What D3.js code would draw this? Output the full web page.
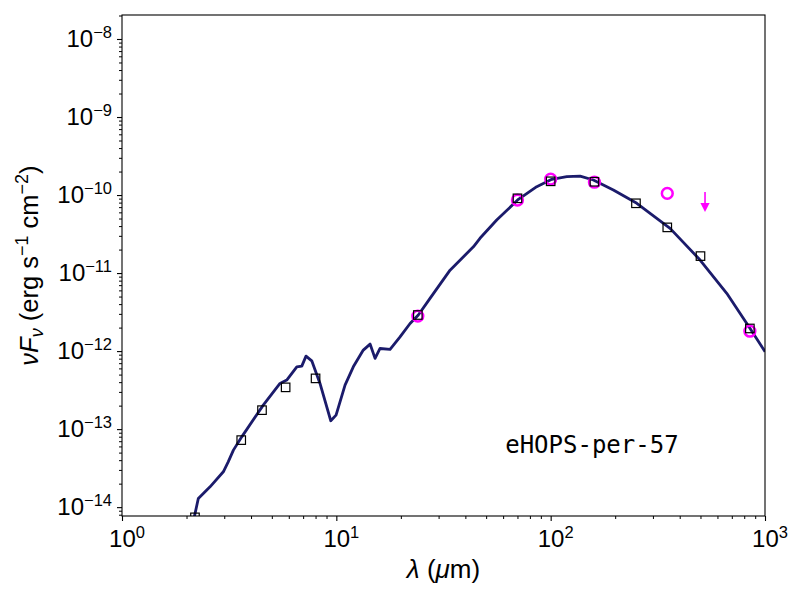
<!DOCTYPE html>
<html>
<head>
<meta charset="utf-8">
<script src="https://cdn.jsdelivr.net/npm/d3@7"></script>
<style>
  body { margin: 0; background: #fff; }
  svg text { font-family: "Liberation Sans Narrow", "Liberation Sans", Arial, sans-serif; }
</style>
</head>
<body>
<div id="art"></div>
<script>
// model SED (wavelength in micron, nuFnu in erg s^-1 cm^-2)
const modelLambda = [2.15, 2.27, 2.575, 2.97, 3.13, 3.31, 3.62, 4.56, 5.46, 5.87, 6.54, 6.90, 7.22, 7.68, 8.39,
  9.42, 9.97, 10.98, 12.0, 13.36, 14.37, 15.16, 15.99, 17.81, 19.83, 22.08, 24.13, 27.36, 33.93, 43.6,
  46.8, 56.0, 70.7, 86.1, 101.2, 118.9, 137.2, 158.2, 196.1, 252.3, 360.7, 498, 663, 852, 1001];
const modelFlux = [6.5e-15, 1.29e-14, 1.82e-14, 2.84e-14, 3.81e-14, 5.38e-14, 7.96e-14, 2.03e-13, 3.85e-13, 4.25e-13,
  6.29e-13, 6.42e-13, 8.63e-13, 7.51e-13, 3.85e-13, 1.28e-13, 1.51e-13, 3.66e-13, 6.29e-13, 1.03e-12,
  1.23e-12, 8.06e-13, 1.08e-12, 1.05e-12, 1.52e-12, 2.26e-12, 2.90e-12, 4.74e-12, 1.09e-11, 2.17e-11,
  2.79e-11, 4.78e-11, 8.81e-11, 1.28e-10, 1.59e-10, 1.72e-10, 1.75e-10, 1.56e-10, 1.16e-10, 7.84e-11,
  3.74e-11, 1.47e-11, 5.50e-12, 1.95e-12, 9.8e-13];

// photometry (open squares)
const photLambda = [2.19, 3.6, 4.5, 5.8, 8.0, 24, 70, 100, 160, 250, 350, 500, 850];
const photFlux = [7.4e-15, 7.23e-14, 1.75e-13, 3.43e-13, 4.47e-13, 2.9e-12, 9.08e-11, 1.5e-10, 1.48e-10,
  7.84e-11, 3.85e-11, 1.65e-11, 1.95e-12];

// fitted points (magenta circles)
const fitLambda = [24, 70, 100, 160, 350, 850];
const fitFlux = [2.81e-12, 8.63e-11, 1.6e-10, 1.46e-10, 1.05e-10, 1.8e-12];

// upper limit (magenta arrow)
const limLambda = [525];
const limFlux = [1.09e-10];

const xTicks = [1, 10, 100, 1000];
const yTicks = [1e-14, 1e-13, 1e-12, 1e-11, 1e-10, 1e-9, 1e-8];
const sourceName = "eHOPS-per-57";

function art() {
  const W = 800, H = 600;
  const m = { left: 122, top: 15, right: 35, bottom: 84 };

  const svg = d3.select("#art").append("svg")
    .attr("width", W).attr("height", H);

  const x = d3.scaleLog().domain([1, 1000]).range([m.left, W - m.right]);
  const y = d3.scaleLog().domain([7.7e-15, 2.03e-8]).range([H - m.bottom, m.top]);

  svg.append("clipPath").attr("id", "clip")
    .append("rect")
    .attr("x", m.left).attr("y", m.top)
    .attr("width", W - m.left - m.right).attr("height", H - m.top - m.bottom);

  const plot = svg.append("g").attr("clip-path", "url(#clip)");

  // model line
  const line = d3.line().x(d => x(d[0])).y(d => y(d[1]));
  plot.append("path")
    .datum(d3.zip(modelLambda, modelFlux))
    .attr("d", line)
    .attr("fill", "none")
    .attr("stroke", "#1b1b6b")
    .attr("stroke-width", 2.8)
    .attr("stroke-linejoin", "round");

  // magenta circles
  plot.selectAll("circle.fit")
    .data(d3.zip(fitLambda, fitFlux))
    .enter().append("circle")
    .attr("cx", d => x(d[0]))
    .attr("cy", d => y(d[1]))
    .attr("r", 5.4)
    .attr("fill", "none")
    .attr("stroke", "#ff00ff")
    .attr("stroke-width", 2.5);

  // photometry squares
  const s = 8.5;
  plot.selectAll("rect.phot")
    .data(d3.zip(photLambda, photFlux))
    .enter().append("rect")
    .attr("x", d => x(d[0]) - s / 2)
    .attr("y", d => y(d[1]) - s / 2)
    .attr("width", s).attr("height", s)
    .attr("fill", "none")
    .attr("stroke", "#000")
    .attr("stroke-width", 1.2);

  // upper limit arrow
  const lim = plot.selectAll("g.lim")
    .data(d3.zip(limLambda, limFlux))
    .enter().append("g");
  lim.append("line")
    .attr("x1", d => x(d[0])).attr("x2", d => x(d[0]))
    .attr("y1", d => y(d[1])).attr("y2", d => y(d[1]) + 13)
    .attr("stroke", "#ff00ff").attr("stroke-width", 1.6);
  lim.append("path")
    .attr("d", d => {
      const cx = x(d[0]), cy = y(d[1]) + 11;
      return `M${cx - 4.6},${cy}L${cx + 4.6},${cy}L${cx},${cy + 9}Z`;
    })
    .attr("fill", "#ff00ff");

  // axes
  const minors = (lo, hi) => {
    const out = [];
    for (let e = lo; e < hi; e++) for (let k = 2; k <= 9; k++) out.push(k * Math.pow(10, e));
    return out;
  };

  const bottom = H - m.bottom;
  svg.append("g").attr("transform", `translate(0,${bottom})`)
    .call(d3.axisBottom(x).tickValues(minors(0, 3)).tickSize(3).tickFormat(""))
    .call(g => g.select(".domain").remove())
    .selectAll("line").attr("stroke-width", 1);
  const xa = svg.append("g").attr("transform", `translate(0,${bottom})`)
    .call(d3.axisBottom(x).tickValues(xTicks).tickSize(5).tickSizeOuter(0).tickFormat(""));
  xa.selectAll("line").attr("stroke-width", 1.1);
  xa.select(".domain").remove();

  svg.append("g").attr("transform", `translate(${m.left},0)`)
    .call(d3.axisLeft(y).tickValues(minors(-15, -7).filter(v => v >= 7.7e-15 && v <= 2.03e-8)).tickSize(3).tickFormat(""))
    .call(g => g.select(".domain").remove())
    .selectAll("line").attr("stroke-width", 1);
  const ya = svg.append("g").attr("transform", `translate(${m.left},0)`)
    .call(d3.axisLeft(y).tickValues(yTicks).tickSize(5).tickFormat(""));
  ya.selectAll("line").attr("stroke-width", 1.1);
  ya.select(".domain").remove();

  // frame
  svg.append("rect")
    .attr("x", m.left).attr("y", m.top)
    .attr("width", W - m.left - m.right).attr("height", H - m.top - m.bottom)
    .attr("fill", "none").attr("stroke", "#000").attr("stroke-width", 1.1);

  // tick labels with superscript exponents
  const expLabel = (sel, v) => {
    const e = Math.round(Math.log10(v));
    sel.append("tspan").text("10");
    sel.append("tspan").attr("dy", -9).attr("font-size", 16.5)
      .text(e < 0 ? "\u2212" + (-e) : String(e));
  };

  xTicks.forEach(v => {
    const t = svg.append("text")
      .attr("x", x(v) + 5).attr("y", bottom + 31)
      .attr("text-anchor", "middle")
      .attr("font-size", 24).attr("fill", "#000");
    expLabel(t, v);
  });

  yTicks.forEach(v => {
    const t = svg.append("text")
      .attr("x", m.left - 10).attr("y", y(v) + 8)
      .attr("text-anchor", "end")
      .attr("font-size", 24).attr("fill", "#000");
    expLabel(t, v);
  });

  // axis titles
  const xt = svg.append("text")
    .attr("x", (m.left + W - m.right) / 2).attr("y", 578)
    .attr("text-anchor", "middle")
    .attr("font-size", 26);
  xt.append("tspan").attr("font-style", "italic").text("\u03bb");
  xt.append("tspan").text(" (");
  xt.append("tspan").attr("font-style", "italic").text("\u03bc");
  xt.append("tspan").text("m)");

  const yt = svg.append("text")
    .attr("transform", `translate(38,${(m.top + bottom) / 2}) rotate(-90)`)
    .attr("text-anchor", "middle")
    .attr("font-size", 25.5);
  yt.append("tspan").attr("font-style", "italic").text("\u03bdF");
  yt.append("tspan").attr("font-style", "italic").attr("font-size", 18).attr("dy", 5).text("\u03bd");
  yt.append("tspan").attr("dy", -5).text(" (erg s");
  yt.append("tspan").attr("font-size", 18).attr("dy", -10).text("\u22121");
  yt.append("tspan").attr("dy", 10).text(" cm");
  yt.append("tspan").attr("font-size", 18).attr("dy", -10).text("\u22122");
  yt.append("tspan").attr("dy", 10).text(")");

  // source name
  svg.append("text")
    .attr("x", m.left + 0.596 * (W - m.left - m.right)).attr("y", 453)
    .style("font-family", "'DejaVu Sans Mono', monospace")
    .attr("font-size", 24)
    .text(sourceName);
}

window.onload = function () {
  art();
};
</script>
</body>
</html>
